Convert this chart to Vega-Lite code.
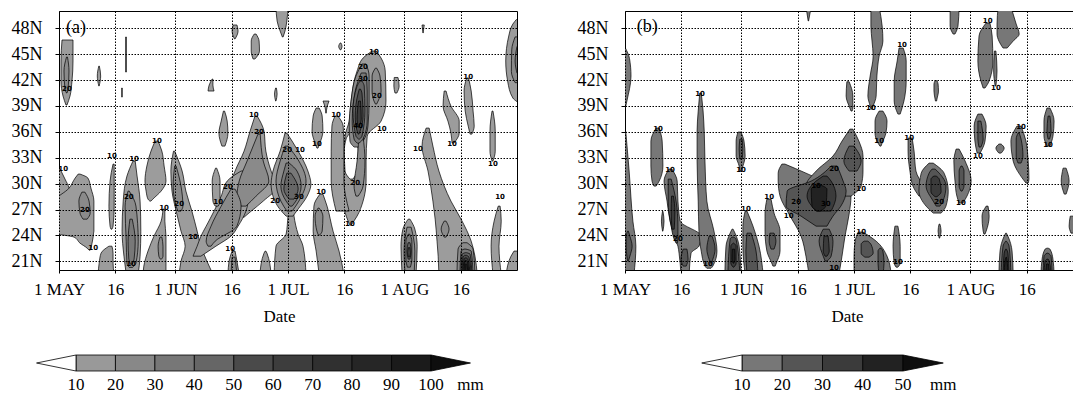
{
"$schema": "https://vega.github.io/schema/vega-lite/v6.json",
"background": "white",
"padding": {"left": 10, "top": 10, "right": 5, "bottom": 0},
"config": {"view": {"stroke": "black", "strokeWidth": 1}},
"datasets": {
"ca": [
{"g":"a01","lv":10,"lat":46.64,"d0":0.8,"d1":3.73},{"g":"a01","lv":10,"lat":44.21,"d0":0.53,"d1":3.73},{"g":"a01","lv":10,"lat":41.89,"d0":0.53,"d1":3.46},{"g":"a01","lv":10,"lat":40.15,"d0":1.07,"d1":2.93},{"g":"a01","lv":10,"lat":39.11,"d0":1.86,"d1":2.13},
{"g":"a01b","lv":20,"lat":44.67,"d0":2.0,"d1":2.26},{"g":"a01b","lv":20,"lat":43.05,"d0":1.33,"d1":2.66},{"g":"a01b","lv":20,"lat":40.96,"d0":1.6,"d1":2.4},{"g":"a01b","lv":20,"lat":40.5,"d0":2.0,"d1":2.13},
{"g":"a02","lv":10,"lat":43.62,"d0":10.6,"d1":10.75},{"g":"a02","lv":10,"lat":42.47,"d0":10.2,"d1":11.1},{"g":"a02","lv":10,"lat":41.31,"d0":10.6,"d1":10.7},
{"g":"a03","lv":10,"lat":46.99,"d0":17.75,"d1":17.95},{"g":"a03","lv":10,"lat":42.93,"d0":17.75,"d1":17.95},
{"g":"a04","lv":10,"lat":41.08,"d0":16.7,"d1":16.85},{"g":"a04","lv":10,"lat":40.03,"d0":16.7,"d1":16.85},
{"g":"a05","lv":10,"lat":42.12,"d0":40.8,"d1":41.0},{"g":"a05","lv":10,"lat":41.42,"d0":40.0,"d1":41.0},{"g":"a05","lv":10,"lat":40.73,"d0":39.7,"d1":41.3},
{"g":"a06","lv":10,"lat":48.38,"d0":46.4,"d1":47.4},{"g":"a06","lv":10,"lat":47.68,"d0":46.1,"d1":47.7},{"g":"a06","lv":10,"lat":46.76,"d0":46.75,"d1":46.9},
{"g":"a07","lv":10,"lat":47.33,"d0":52.0,"d1":52.5},{"g":"a07","lv":10,"lat":46.52,"d0":51.2,"d1":53.3},{"g":"a07","lv":10,"lat":45.36,"d0":51.2,"d1":53.4},{"g":"a07","lv":10,"lat":44.44,"d0":51.7,"d1":52.2},
{"g":"a08","lv":10,"lat":38.41,"d0":43.8,"d1":44.1},{"g":"a08","lv":10,"lat":37.25,"d0":43.2,"d1":44.8},{"g":"a08","lv":10,"lat":35.86,"d0":42.6,"d1":45.0},{"g":"a08","lv":10,"lat":34.35,"d0":43.4,"d1":44.2},
{"g":"a09","lv":10,"lat":50.5,"d0":57.8,"d1":61.0},{"g":"a09","lv":10,"lat":48.84,"d0":58.1,"d1":60.7},{"g":"a09","lv":10,"lat":47.68,"d0":58.9,"d1":60.2},{"g":"a09","lv":10,"lat":46.99,"d0":59.5,"d1":59.7},
{"g":"a10","lv":10,"lat":46.3,"d0":74.9,"d1":75.1},{"g":"a10","lv":10,"lat":45.9,"d0":74.5,"d1":75.4},{"g":"a10","lv":10,"lat":45.5,"d0":74.9,"d1":75.1},
{"g":"a11","lv":10,"lat":49.0,"d0":121.8,"d1":123},{"g":"a11","lv":10,"lat":48.49,"d0":120.9,"d1":123},{"g":"a11","lv":10,"lat":47.1,"d0":119.8,"d1":123},{"g":"a11","lv":10,"lat":44.21,"d0":119.0,"d1":123},{"g":"a11","lv":10,"lat":41.89,"d0":119.5,"d1":123},{"g":"a11","lv":10,"lat":39.92,"d0":120.9,"d1":123},{"g":"a11","lv":10,"lat":39.5,"d0":122.0,"d1":123},
{"g":"a11b","lv":20,"lat":47.0,"d0":121.5,"d1":123},{"g":"a11b","lv":20,"lat":45.5,"d0":120.6,"d1":123},{"g":"a11b","lv":20,"lat":43.0,"d0":120.5,"d1":123},{"g":"a11b","lv":20,"lat":41.7,"d0":121.5,"d1":123},
{"g":"a11c","lv":30,"lat":45.9,"d0":122.0,"d1":123},{"g":"a11c","lv":30,"lat":44.2,"d0":121.5,"d1":123},{"g":"a11c","lv":30,"lat":42.8,"d0":122.0,"d1":123},
{"g":"a12","lv":10,"lat":45.36,"d0":83.4,"d1":84.5},{"g":"a12","lv":10,"lat":44.55,"d0":81.0,"d1":85.8},{"g":"a12","lv":10,"lat":43.05,"d0":79.4,"d1":86.9},{"g":"a12","lv":10,"lat":39.57,"d0":77.8,"d1":87.1},{"g":"a12","lv":10,"lat":37.25,"d0":77.3,"d1":85.8},{"g":"a12","lv":10,"lat":35.51,"d0":76.2,"d1":82.1},{"g":"a12","lv":10,"lat":32.62,"d0":75.9,"d1":81.8},{"g":"a12","lv":10,"lat":30.3,"d0":75.4,"d1":81.8},{"g":"a12","lv":10,"lat":27.98,"d0":75.7,"d1":81.0},{"g":"a12","lv":10,"lat":26.24,"d0":76.5,"d1":79.4},{"g":"a12","lv":10,"lat":25.2,"d0":77.5,"d1":77.8},
{"g":"a13","lv":10,"lat":37.83,"d0":73.5,"d1":74.3},{"g":"a13","lv":10,"lat":36.67,"d0":72.7,"d1":75.7},{"g":"a13","lv":10,"lat":33.77,"d0":72.5,"d1":75.9},{"g":"a13","lv":10,"lat":30.3,"d0":72.5,"d1":75.9},{"g":"a13","lv":10,"lat":26.82,"d0":73.8,"d1":77.3},
{"g":"h1","lv":0,"lat":35.86,"d0":77.5,"d1":78.2},{"g":"h1","lv":0,"lat":35.2,"d0":76.5,"d1":78.9},{"g":"h1","lv":0,"lat":33.77,"d0":76.0,"d1":79.7},{"g":"h1","lv":0,"lat":31.46,"d0":76.2,"d1":79.4},{"g":"h1","lv":0,"lat":30.53,"d0":77.5,"d1":78.3},
{"g":"a12c","lv":20,"lat":43.86,"d0":80.7,"d1":81.8},{"g":"a12c","lv":20,"lat":42.47,"d0":79.1,"d1":82.6},{"g":"a12c","lv":20,"lat":39.57,"d0":77.8,"d1":82.6},{"g":"a12c","lv":20,"lat":36.67,"d0":77.3,"d1":82.3},{"g":"a12c","lv":20,"lat":34.93,"d0":77.5,"d1":81.0},{"g":"a12c","lv":20,"lat":34.24,"d0":78.6,"d1":79.7},
{"g":"a12d","lv":30,"lat":42.82,"d0":80.5,"d1":81.8},{"g":"a12d","lv":30,"lat":40.73,"d0":78.9,"d1":82.1},{"g":"a12d","lv":30,"lat":37.25,"d0":78.1,"d1":82.1},{"g":"a12d","lv":30,"lat":35.17,"d0":78.6,"d1":81.0},{"g":"a12d","lv":30,"lat":34.7,"d0":79.4,"d1":79.9},
{"g":"a12e","lv":40,"lat":41.89,"d0":80.2,"d1":80.7},{"g":"a12e","lv":40,"lat":41.31,"d0":79.4,"d1":81.3},{"g":"a12e","lv":40,"lat":38.41,"d0":78.3,"d1":81.5},{"g":"a12e","lv":40,"lat":35.51,"d0":79.1,"d1":80.7},{"g":"a12e","lv":40,"lat":35.17,"d0":79.8,"d1":80.1},
{"g":"a12f","lv":50,"lat":40.96,"d0":80.0,"d1":80.3},{"g":"a12f","lv":50,"lat":40.5,"d0":79.7,"d1":80.7},{"g":"a12f","lv":50,"lat":37.83,"d0":78.9,"d1":81.0},{"g":"a12f","lv":50,"lat":36.09,"d0":79.4,"d1":80.2},{"g":"a12f","lv":50,"lat":35.74,"d0":79.7,"d1":79.9},
{"g":"a12g","lv":60,"lat":39.57,"d0":79.8,"d1":80.3},{"g":"a12g","lv":60,"lat":37.48,"d0":79.4,"d1":80.5},{"g":"a12g","lv":60,"lat":36.55,"d0":79.7,"d1":79.9},
{"g":"a12h","lv":20,"lat":43.39,"d0":84.3,"d1":84.6},{"g":"a12h","lv":20,"lat":42.47,"d0":83.4,"d1":85.5},{"g":"a12h","lv":20,"lat":40.73,"d0":83.4,"d1":85.8},{"g":"a12h","lv":20,"lat":39.57,"d0":83.9,"d1":85.0},{"g":"a12h","lv":20,"lat":39.22,"d0":84.3,"d1":84.6},
{"g":"a12i","lv":20,"lat":35.51,"d0":79.9,"d1":81.0},{"g":"a12i","lv":20,"lat":32.62,"d0":79.4,"d1":81.5},{"g":"a12i","lv":20,"lat":29.72,"d0":78.6,"d1":81.0},{"g":"a12i","lv":20,"lat":28.56,"d0":79.1,"d1":79.7},
{"g":"a14","lv":10,"lat":28.79,"d0":69.5,"d1":70.3},{"g":"a14","lv":10,"lat":27.4,"d0":67.9,"d1":71.4},{"g":"a14","lv":10,"lat":24.5,"d0":67.7,"d1":73.0},{"g":"a14","lv":10,"lat":22.19,"d0":68.5,"d1":74.6},{"g":"a14","lv":10,"lat":19.5,"d0":69.3,"d1":75.9},
{"g":"a14b","lv":20,"lat":27.17,"d0":69.0,"d1":69.3},{"g":"a14b","lv":20,"lat":26.24,"d0":68.2,"d1":70.3},{"g":"a14b","lv":20,"lat":24.5,"d0":68.7,"d1":70.1},{"g":"a14b","lv":20,"lat":24.04,"d0":69.1,"d1":69.4},
{"g":"a15","lv":10,"lat":27.4,"d0":61.3,"d1":62.3},{"g":"a15","lv":10,"lat":26.24,"d0":61.0,"d1":62.6},{"g":"a15","lv":10,"lat":24.16,"d0":60.5,"d1":63.7},{"g":"a15","lv":10,"lat":22.76,"d0":57.8,"d1":65.0},{"g":"a15","lv":10,"lat":19.5,"d0":57.3,"d1":65.8},
{"g":"bl","lv":10,"lat":37.83,"d0":52.2,"d1":52.8},{"g":"bl","lv":10,"lat":36.09,"d0":50.9,"d1":54.6},{"g":"bl","lv":10,"lat":33.77,"d0":49.3,"d1":55.1},{"g":"bl","lv":10,"lat":31.46,"d0":46.9,"d1":56.5},{"g":"bl","lv":10,"lat":29.72,"d0":45.6,"d1":58.1},{"g":"bl","lv":10,"lat":27.98,"d0":45.8,"d1":54.4},{"g":"bl","lv":10,"lat":26.82,"d0":47.4,"d1":51.2},{"g":"bl","lv":10,"lat":26.12,"d0":49.0,"d1":49.3},
{"g":"bl2","lv":20,"lat":35.74,"d0":53.0,"d1":53.6},{"g":"bl2","lv":20,"lat":32.62,"d0":50.1,"d1":54.4},{"g":"bl2","lv":20,"lat":30.3,"d0":48.0,"d1":55.9},{"g":"bl2","lv":20,"lat":28.56,"d0":47.4,"d1":52.5},{"g":"bl2","lv":20,"lat":27.4,"d0":48.5,"d1":49.8},
{"g":"br","lv":10,"lat":35.86,"d0":60.2,"d1":60.7},{"g":"br","lv":10,"lat":33.77,"d0":58.9,"d1":63.7},{"g":"br","lv":10,"lat":31.46,"d0":57.0,"d1":66.3},{"g":"br","lv":10,"lat":29.95,"d0":56.5,"d1":67.1},{"g":"br","lv":10,"lat":28.56,"d0":57.0,"d1":66.1},{"g":"br","lv":10,"lat":27.17,"d0":58.6,"d1":63.9},{"g":"br","lv":10,"lat":26.24,"d0":60.5,"d1":62.3},
{"g":"br2","lv":20,"lat":34.35,"d0":60.2,"d1":61.0},{"g":"br2","lv":20,"lat":32.62,"d0":58.9,"d1":63.9},{"g":"br2","lv":20,"lat":30.3,"d0":57.8,"d1":65.8},{"g":"br2","lv":20,"lat":27.98,"d0":59.1,"d1":63.9},{"g":"br2","lv":20,"lat":26.82,"d0":60.7,"d1":62.1},
{"g":"br3","lv":30,"lat":32.39,"d0":60.5,"d1":61.3},{"g":"br3","lv":30,"lat":31.46,"d0":59.9,"d1":63.4},{"g":"br3","lv":30,"lat":29.72,"d0":59.1,"d1":64.5},{"g":"br3","lv":30,"lat":27.98,"d0":60.5,"d1":63.1},{"g":"br3","lv":30,"lat":27.4,"d0":61.5,"d1":62.1},
{"g":"br4","lv":40,"lat":31.22,"d0":60.7,"d1":61.8},{"g":"br4","lv":40,"lat":29.37,"d0":59.9,"d1":63.7},{"g":"br4","lv":40,"lat":28.21,"d0":61.3,"d1":62.6},
{"g":"ll","lv":10,"lat":33.77,"d0":30.5,"d1":30.8},{"g":"ll","lv":10,"lat":31.46,"d0":29.8,"d1":32.8},{"g":"ll","lv":10,"lat":29.14,"d0":30.1,"d1":33.8},{"g":"ll","lv":10,"lat":26.82,"d0":31.2,"d1":35.4},{"g":"ll","lv":10,"lat":24.5,"d0":32.5,"d1":36.8},{"g":"ll","lv":10,"lat":22.76,"d0":33.6,"d1":37.8},{"g":"ll","lv":10,"lat":21.03,"d0":32.5,"d1":39.4},{"g":"ll","lv":10,"lat":19.5,"d0":32.0,"d1":41.0},
{"g":"ll2","lv":20,"lat":32.04,"d0":30.8,"d1":31.2},{"g":"ll2","lv":20,"lat":29.72,"d0":30.4,"d1":32.5},{"g":"ll2","lv":20,"lat":27.4,"d0":31.2,"d1":33.0},{"g":"ll2","lv":20,"lat":26.82,"d0":31.7,"d1":32.5},
{"g":"ra","lv":10,"lat":31.46,"d0":48.5,"d1":49.6},{"g":"ra","lv":10,"lat":30.3,"d0":44.8,"d1":51.2},{"g":"ra","lv":10,"lat":28.56,"d0":43.2,"d1":50.6},{"g":"ra","lv":10,"lat":26.82,"d0":41.3,"d1":49.8},{"g":"ra","lv":10,"lat":25.08,"d0":39.2,"d1":47.7},{"g":"ra","lv":10,"lat":23.92,"d0":37.8,"d1":45.8},{"g":"ra","lv":10,"lat":22.76,"d0":36.8,"d1":41.8},{"g":"ra","lv":10,"lat":21.6,"d0":35.7,"d1":37.8},
{"g":"ra2","lv":20,"lat":29.37,"d0":45.8,"d1":46.9},{"g":"ra2","lv":20,"lat":27.4,"d0":43.2,"d1":48.5},{"g":"ra2","lv":20,"lat":25.08,"d0":40.5,"d1":47.4},{"g":"ra2","lv":20,"lat":23.34,"d0":39.2,"d1":41.6},{"g":"ra2","lv":20,"lat":22.76,"d0":39.7,"d1":40.5},
{"g":"fi","lv":10,"lat":31.8,"d0":41.7,"d1":42.0},{"g":"fi","lv":10,"lat":30.3,"d0":40.8,"d1":42.9},{"g":"fi","lv":10,"lat":27.98,"d0":41.0,"d1":42.9},{"g":"fi","lv":10,"lat":27.4,"d0":41.6,"d1":42.4},
{"g":"sb","lv":10,"lat":22.19,"d0":46.1,"d1":46.9},{"g":"sb","lv":10,"lat":21.03,"d0":45.3,"d1":47.4},{"g":"sb","lv":10,"lat":19.5,"d0":45.0,"d1":48.0},
{"g":"sb2","lv":20,"lat":21.49,"d0":46.1,"d1":46.9},{"g":"sb2","lv":20,"lat":19.5,"d0":45.8,"d1":47.4},
{"g":"a37","lv":10,"lat":22.19,"d0":54.9,"d1":55.1},{"g":"a37","lv":10,"lat":21.95,"d0":54.6,"d1":55.4},{"g":"a37","lv":10,"lat":19.5,"d0":53.5,"d1":56.5},
{"g":"A8a","lv":10,"lat":31.69,"d0":-1,"d1":0.3},{"g":"A8a","lv":10,"lat":30.53,"d0":-1,"d1":1.6},{"g":"A8a","lv":10,"lat":29.49,"d0":-1,"d1":2.7},{"g":"A8a","lv":10,"lat":28.5,"d0":-1,"d1":3.0},
{"g":"A8","lv":10,"lat":31.11,"d0":5.1,"d1":5.6},{"g":"A8","lv":10,"lat":30.65,"d0":4.3,"d1":7.7},{"g":"A8","lv":10,"lat":29.49,"d0":2.7,"d1":8.5},{"g":"A8","lv":10,"lat":27.98,"d0":-1,"d1":9.3},{"g":"A8","lv":10,"lat":24.5,"d0":-1,"d1":9.3},{"g":"A8","lv":10,"lat":24.27,"d0":-1,"d1":9.2},{"g":"A8","lv":10,"lat":23.81,"d0":4.0,"d1":9.1},{"g":"A8","lv":10,"lat":23.11,"d0":5.6,"d1":8.8},{"g":"A8","lv":10,"lat":22.53,"d0":7.5,"d1":8.5},{"g":"A8","lv":10,"lat":22.3,"d0":8.0,"d1":8.3},
{"g":"A8b","lv":20,"lat":29.02,"d0":6.1,"d1":6.9},{"g":"A8b","lv":20,"lat":27.98,"d0":5.3,"d1":8.0},{"g":"A8b","lv":20,"lat":26.59,"d0":5.6,"d1":8.3},{"g":"A8b","lv":20,"lat":25.89,"d0":6.4,"d1":7.5},
{"g":"A9","lv":10,"lat":32.27,"d0":14.4,"d1":14.7},{"g":"A9","lv":10,"lat":30.3,"d0":13.6,"d1":14.7},{"g":"A9","lv":10,"lat":27.4,"d0":13.3,"d1":14.7},{"g":"A9","lv":10,"lat":25.08,"d0":13.6,"d1":14.4},{"g":"A9","lv":10,"lat":24.73,"d0":13.85,"d1":14.1},
{"g":"A10","lv":10,"lat":22.76,"d0":13.3,"d1":14.1},{"g":"A10","lv":10,"lat":21.95,"d0":11.2,"d1":14.4},{"g":"A10","lv":10,"lat":20.79,"d0":10.7,"d1":14.4},{"g":"A10","lv":10,"lat":19.5,"d0":10.4,"d1":14.7},
{"g":"A11","lv":10,"lat":32.62,"d0":19.7,"d1":20.3},{"g":"A11","lv":10,"lat":30.88,"d0":18.1,"d1":20.8},{"g":"A11","lv":10,"lat":27.98,"d0":17.1,"d1":21.6},{"g":"A11","lv":10,"lat":24.5,"d0":16.8,"d1":21.8},{"g":"A11","lv":10,"lat":21.6,"d0":17.3,"d1":21.6},{"g":"A11","lv":10,"lat":19.5,"d0":17.9,"d1":21.1},
{"g":"A11b","lv":20,"lat":29.14,"d0":18.4,"d1":18.7},{"g":"A11b","lv":20,"lat":27.4,"d0":17.6,"d1":20.5},{"g":"A11b","lv":20,"lat":23.34,"d0":17.9,"d1":21.1},{"g":"A11b","lv":20,"lat":20.79,"d0":18.1,"d1":20.5},{"g":"A11b","lv":20,"lat":20.3,"d0":18.7,"d1":19.6},
{"g":"A11c","lv":30,"lat":25.89,"d0":18.9,"d1":19.5},{"g":"A11c","lv":30,"lat":23.34,"d0":18.4,"d1":20.3},{"g":"A11c","lv":30,"lat":21.26,"d0":18.6,"d1":20.0},{"g":"A11c","lv":30,"lat":20.68,"d0":19.0,"d1":19.5},
{"g":"A12","lv":10,"lat":34.93,"d0":25.6,"d1":26.4},{"g":"A12","lv":10,"lat":33.77,"d0":24.5,"d1":27.4},{"g":"A12","lv":10,"lat":32.04,"d0":23.4,"d1":28.0},{"g":"A12","lv":10,"lat":30.3,"d0":22.9,"d1":28.5},{"g":"A12","lv":10,"lat":29.14,"d0":23.2,"d1":27.2},{"g":"A12","lv":10,"lat":28.21,"d0":23.7,"d1":25.0},{"g":"A12","lv":10,"lat":27.98,"d0":24.2,"d1":24.5},
{"g":"A13","lv":10,"lat":27.05,"d0":27.7,"d1":28.2},{"g":"A13","lv":10,"lat":25.66,"d0":27.2,"d1":28.2},{"g":"A13","lv":10,"lat":23.92,"d0":25.3,"d1":28.5},{"g":"A13","lv":10,"lat":22.19,"d0":23.7,"d1":28.5},{"g":"A13","lv":10,"lat":20.45,"d0":22.6,"d1":28.5},{"g":"A13","lv":10,"lat":19.5,"d0":22.4,"d1":28.5},
{"g":"A13b","lv":20,"lat":23.81,"d0":26.9,"d1":27.4},{"g":"A13b","lv":20,"lat":22.76,"d0":26.4,"d1":27.7},{"g":"A13b","lv":20,"lat":21.6,"d0":26.6,"d1":27.7},{"g":"A13b","lv":20,"lat":21.26,"d0":27.0,"d1":27.3},
{"g":"a20","lv":10,"lat":42.3,"d0":89.3,"d1":90.3},{"g":"a20","lv":10,"lat":41.31,"d0":89.2,"d1":90.6},{"g":"a20","lv":10,"lat":40.5,"d0":89.5,"d1":90.0},
{"g":"a24","lv":10,"lat":38.41,"d0":115.35,"d1":115.6},{"g":"a24","lv":10,"lat":36.09,"d0":114.8,"d1":116.2},{"g":"a24","lv":10,"lat":33.77,"d0":114.8,"d1":116.2},{"g":"a24","lv":10,"lat":32.62,"d0":115.35,"d1":115.6},
{"g":"a25","lv":10,"lat":42.24,"d0":108.6,"d1":109.1},{"g":"a25","lv":10,"lat":40.73,"d0":107.9,"d1":109.8},{"g":"a25","lv":10,"lat":38.41,"d0":108.2,"d1":110.3},{"g":"a25","lv":10,"lat":36.67,"d0":109.0,"d1":110.6},{"g":"a25","lv":10,"lat":35.74,"d0":109.5,"d1":110.0},
{"g":"a26","lv":10,"lat":40.73,"d0":102.6,"d1":103.1},{"g":"a26","lv":10,"lat":38.99,"d0":102.3,"d1":104.4},{"g":"a26","lv":10,"lat":37.25,"d0":103.6,"d1":106.6},{"g":"a26","lv":10,"lat":35.86,"d0":104.4,"d1":106.6},{"g":"a26","lv":10,"lat":34.7,"d0":104.7,"d1":105.2},
{"g":"a21","lv":10,"lat":36.44,"d0":97.8,"d1":98.6},{"g":"a21","lv":10,"lat":34.35,"d0":96.7,"d1":99.6},{"g":"a21","lv":10,"lat":31.46,"d0":98.3,"d1":101.2},{"g":"a21","lv":10,"lat":27.98,"d0":99.6,"d1":104.4},{"g":"a21","lv":10,"lat":25.89,"d0":100.2,"d1":107.1},{"g":"a21","lv":10,"lat":23.34,"d0":100.7,"d1":109.8},{"g":"a21","lv":10,"lat":21.6,"d0":101.0,"d1":110.8},{"g":"a21","lv":10,"lat":19.5,"d0":101.2,"d1":111.4},
{"g":"a21b","lv":20,"lat":25.66,"d0":102.6,"d1":103.1},{"g":"a21b","lv":20,"lat":24.73,"d0":101.8,"d1":103.9},{"g":"a21b","lv":20,"lat":23.81,"d0":102.6,"d1":103.1},
{"g":"dc","lv":20,"lat":23.16,"d0":107.6,"d1":108.7},{"g":"dc","lv":20,"lat":22.42,"d0":106.3,"d1":110.3},{"g":"dc","lv":20,"lat":19.5,"d0":106.0,"d1":110.8},
{"g":"dc3","lv":30,"lat":22.42,"d0":107.9,"d1":108.4},{"g":"dc3","lv":30,"lat":22.19,"d0":107.1,"d1":109.8},{"g":"dc3","lv":30,"lat":19.5,"d0":106.8,"d1":110.3},
{"g":"dc4","lv":40,"lat":22.0,"d0":108.2,"d1":108.6},{"g":"dc4","lv":40,"lat":21.84,"d0":107.4,"d1":109.5},{"g":"dc4","lv":40,"lat":19.5,"d0":107.1,"d1":110.0},
{"g":"dc5","lv":50,"lat":21.7,"d0":108.0,"d1":108.6},{"g":"dc5","lv":50,"lat":21.49,"d0":107.6,"d1":109.2},{"g":"dc5","lv":50,"lat":19.5,"d0":107.4,"d1":109.8},
{"g":"dc6","lv":60,"lat":21.4,"d0":108.1,"d1":108.5},{"g":"dc6","lv":60,"lat":21.26,"d0":107.9,"d1":108.9},{"g":"dc6","lv":60,"lat":19.5,"d0":107.6,"d1":109.5},
{"g":"dc7","lv":70,"lat":21.1,"d0":108.2,"d1":108.5},{"g":"dc7","lv":70,"lat":20.91,"d0":108.0,"d1":108.8},{"g":"dc7","lv":70,"lat":19.5,"d0":107.9,"d1":109.2},
{"g":"dc8","lv":80,"lat":20.7,"d0":108.3,"d1":108.5},{"g":"dc8","lv":80,"lat":20.56,"d0":108.2,"d1":108.7},{"g":"dc8","lv":80,"lat":19.5,"d0":108.2,"d1":108.9},
{"g":"a22","lv":10,"lat":25.89,"d0":93.0,"d1":93.5},{"g":"a22","lv":10,"lat":24.73,"d0":91.6,"d1":94.8},{"g":"a22","lv":10,"lat":22.76,"d0":91.1,"d1":95.4},{"g":"a22","lv":10,"lat":19.5,"d0":91.4,"d1":95.1},
{"g":"a22b","lv":20,"lat":24.96,"d0":92.7,"d1":93.8},{"g":"a22b","lv":20,"lat":22.19,"d0":91.9,"d1":94.8},{"g":"a22b","lv":20,"lat":19.5,"d0":92.2,"d1":94.6},
{"g":"a22c","lv":30,"lat":24.16,"d0":93.1,"d1":93.4},{"g":"a22c","lv":30,"lat":23.34,"d0":92.4,"d1":94.0},{"g":"a22c","lv":30,"lat":21.26,"d0":92.4,"d1":94.0},{"g":"a22c","lv":30,"lat":20.33,"d0":92.8,"d1":93.6},
{"g":"a22d","lv":40,"lat":23.16,"d0":93.0,"d1":93.5},{"g":"a22d","lv":40,"lat":22.19,"d0":92.7,"d1":93.8},{"g":"a22d","lv":40,"lat":21.26,"d0":93.0,"d1":93.5},
{"g":"a22e","lv":50,"lat":22.6,"d0":93.1,"d1":93.4},{"g":"a22e","lv":50,"lat":22.0,"d0":92.9,"d1":93.6},{"g":"a22e","lv":50,"lat":21.5,"d0":93.1,"d1":93.4},
{"g":"a23","lv":10,"lat":27.4,"d0":117.0,"d1":117.5},{"g":"a23","lv":10,"lat":25.66,"d0":115.9,"d1":117.8},{"g":"a23","lv":10,"lat":22.76,"d0":115.1,"d1":117.2},{"g":"a23","lv":10,"lat":19.5,"d0":115.6,"d1":117.8},
{"g":"a23b","lv":10,"lat":22.19,"d0":121.2,"d1":123},{"g":"a23b","lv":10,"lat":21.6,"d0":120.4,"d1":123},{"g":"a23b","lv":10,"lat":19.5,"d0":119.1,"d1":123},
{"g":"a28","lv":10,"lat":38.76,"d0":68.5,"d1":69.3},{"g":"a28","lv":10,"lat":37.83,"d0":67.7,"d1":70.1},{"g":"a28","lv":10,"lat":36.09,"d0":67.4,"d1":70.3},{"g":"a28","lv":10,"lat":34.7,"d0":68.2,"d1":69.5},{"g":"a28","lv":10,"lat":34.12,"d0":68.7,"d1":69.0},
{"g":"a31","lv":10,"lat":41.08,"d0":57.7,"d1":57.9},{"g":"a31","lv":10,"lat":40.38,"d0":57.4,"d1":58.1},{"g":"a31","lv":10,"lat":39.57,"d0":57.7,"d1":57.8},
{"g":"a32","lv":10,"lat":38.17,"d0":71.07,"d1":71.18},{"g":"a32","lv":10,"lat":38.87,"d0":70.86,"d1":71.4},{"g":"a32","lv":10,"lat":39.57,"d0":70.33,"d1":71.93},
{"g":"a33","lv":10,"lat":48.38,"d0":96.7,"d1":97.3},{"g":"a33","lv":10,"lat":47.8,"d0":96.85,"d1":97.1},{"g":"a33","lv":10,"lat":47.45,"d0":96.95,"d1":97.0}
],
"cb": [
{"g":"b01a","lv":10,"lat":45.71,"d0":-1,"d1":0.1},{"g":"b01a","lv":10,"lat":44.5,"d0":-1,"d1":1.2},{"g":"b01a","lv":10,"lat":42.47,"d0":-1,"d1":1.6},{"g":"b01a","lv":10,"lat":39.57,"d0":-1,"d1":0.5},{"g":"b01a","lv":10,"lat":38.76,"d0":-1,"d1":0.1},
{"g":"b01b","lv":10,"lat":36.09,"d0":-1,"d1":0.2},{"g":"b01b","lv":10,"lat":31.46,"d0":-1,"d1":1.1},{"g":"b01b","lv":10,"lat":25.66,"d0":-1,"d1":2.1},{"g":"b01b","lv":10,"lat":22.76,"d0":-1,"d1":2.9},{"g":"b01b","lv":10,"lat":19.5,"d0":-1,"d1":2.4},
{"g":"b01c","lv":20,"lat":24.5,"d0":0.7,"d1":0.9},{"g":"b01c","lv":20,"lat":23.92,"d0":0.3,"d1":1.3},{"g":"b01c","lv":20,"lat":22.76,"d0":0.3,"d1":1.9},{"g":"b01c","lv":20,"lat":21.6,"d0":0.5,"d1":1.3},{"g":"b01c","lv":20,"lat":21.03,"d0":0.7,"d1":0.9},
{"g":"b02","lv":10,"lat":36.44,"d0":8.3,"d1":9.1},{"g":"b02","lv":10,"lat":34.93,"d0":6.9,"d1":9.9},{"g":"b02","lv":10,"lat":32.04,"d0":6.9,"d1":10.1},{"g":"b02","lv":10,"lat":30.3,"d0":7.2,"d1":9.1},{"g":"b02","lv":10,"lat":29.72,"d0":7.7,"d1":8.3},
{"g":"b03","lv":10,"lat":31.69,"d0":11.7,"d1":12.5},{"g":"b03","lv":10,"lat":30.3,"d0":10.4,"d1":13.9},{"g":"b03","lv":10,"lat":27.98,"d0":11.2,"d1":14.1},{"g":"b03","lv":10,"lat":25.66,"d0":12.0,"d1":14.7},{"g":"b03","lv":10,"lat":23.92,"d0":13.1,"d1":20.3},{"g":"b03","lv":10,"lat":22.76,"d0":14.1,"d1":19.7},{"g":"b03","lv":10,"lat":21.95,"d0":14.4,"d1":17.6},{"g":"b03","lv":10,"lat":19.5,"d0":14.9,"d1":17.1},
{"g":"b03b","lv":20,"lat":30.53,"d0":11.5,"d1":12.3},{"g":"b03b","lv":20,"lat":27.98,"d0":11.5,"d1":13.6},{"g":"b03b","lv":20,"lat":25.08,"d0":12.3,"d1":14.1},{"g":"b03b","lv":20,"lat":23.57,"d0":13.1,"d1":14.1},{"g":"b03b","lv":20,"lat":23.11,"d0":13.6,"d1":13.9},
{"g":"b03c","lv":30,"lat":28.56,"d0":12.4,"d1":12.9},{"g":"b03c","lv":30,"lat":26.82,"d0":12.3,"d1":13.3},{"g":"b03c","lv":30,"lat":24.73,"d0":12.5,"d1":13.1},
{"g":"b03d","lv":20,"lat":22.42,"d0":15.5,"d1":16.5},{"g":"b03d","lv":20,"lat":21.26,"d0":14.9,"d1":16.8},{"g":"b03d","lv":20,"lat":20.45,"d0":15.5,"d1":16.3},
{"g":"b04","lv":10,"lat":26.82,"d0":10.0,"d1":10.1},{"g":"b04","lv":10,"lat":25.66,"d0":9.7,"d1":10.4},{"g":"b04","lv":10,"lat":24.5,"d0":10.0,"d1":10.1},
{"g":"b05","lv":10,"lat":40.5,"d0":19.9,"d1":20.3},{"g":"b05","lv":10,"lat":38.41,"d0":19.5,"d1":20.8},{"g":"b05","lv":10,"lat":36.09,"d0":19.2,"d1":21.1},{"g":"b05","lv":10,"lat":32.62,"d0":19.2,"d1":21.3},{"g":"b05","lv":10,"lat":27.98,"d0":19.5,"d1":21.8},{"g":"b05","lv":10,"lat":24.5,"d0":19.7,"d1":23.7},{"g":"b05","lv":10,"lat":22.19,"d0":20.3,"d1":24.5},{"g":"b05","lv":10,"lat":20.45,"d0":21.3,"d1":23.4},{"g":"b05","lv":10,"lat":20.2,"d0":21.8,"d1":22.9},
{"g":"b05b","lv":20,"lat":23.92,"d0":22.4,"d1":23.2},{"g":"b05b","lv":20,"lat":22.42,"d0":21.8,"d1":24.0},{"g":"b05b","lv":20,"lat":21.26,"d0":22.4,"d1":23.4},{"g":"b05b","lv":20,"lat":20.79,"d0":22.8,"d1":23.0},
{"g":"b06","lv":10,"lat":35.98,"d0":30.1,"d1":30.9},{"g":"b06","lv":10,"lat":34.93,"d0":29.6,"d1":31.7},{"g":"b06","lv":10,"lat":33.2,"d0":29.6,"d1":32.0},{"g":"b06","lv":10,"lat":32.04,"d0":30.4,"d1":31.4},{"g":"b06","lv":10,"lat":31.46,"d0":30.6,"d1":30.9},
{"g":"b06b","lv":20,"lat":35.17,"d0":30.6,"d1":31.2},{"g":"b06b","lv":20,"lat":34.01,"d0":30.4,"d1":31.4},{"g":"b06b","lv":20,"lat":32.85,"d0":30.6,"d1":31.2},
{"g":"b07a","lv":10,"lat":24.73,"d0":28.5,"d1":28.8},{"g":"b07a","lv":10,"lat":24.27,"d0":28.0,"d1":29.3},{"g":"b07a","lv":10,"lat":22.76,"d0":26.9,"d1":30.4},{"g":"b07a","lv":10,"lat":19.5,"d0":26.6,"d1":30.9},
{"g":"b07a2","lv":20,"lat":23.81,"d0":28.5,"d1":29.0},{"g":"b07a2","lv":20,"lat":23.57,"d0":28.0,"d1":29.6},{"g":"b07a2","lv":20,"lat":19.5,"d0":27.4,"d1":30.6},
{"g":"b07a3","lv":30,"lat":23.11,"d0":28.8,"d1":29.0},{"g":"b07a3","lv":30,"lat":22.76,"d0":28.2,"d1":29.6},{"g":"b07a3","lv":30,"lat":20.79,"d0":28.2,"d1":29.6},{"g":"b07a3","lv":30,"lat":20.33,"d0":28.8,"d1":29.0},
{"g":"b07a4","lv":40,"lat":22.42,"d0":28.6,"d1":29.2},{"g":"b07a4","lv":40,"lat":21.26,"d0":28.5,"d1":29.3},{"g":"b07a4","lv":40,"lat":20.79,"d0":28.8,"d1":29.0},
{"g":"b07b","lv":10,"lat":26.82,"d0":32.0,"d1":32.5},{"g":"b07b","lv":10,"lat":25.08,"d0":31.4,"d1":34.1},{"g":"b07b","lv":10,"lat":22.76,"d0":31.4,"d1":35.7},{"g":"b07b","lv":10,"lat":19.5,"d0":32.0,"d1":36.8},
{"g":"b07b2","lv":20,"lat":24.27,"d0":32.5,"d1":33.6},{"g":"b07b2","lv":20,"lat":22.19,"d0":32.2,"d1":34.9},{"g":"b07b2","lv":20,"lat":19.5,"d0":32.5,"d1":35.4},
{"g":"b08","lv":10,"lat":28.21,"d0":37.8,"d1":38.9},{"g":"b08","lv":10,"lat":26.59,"d0":37.3,"d1":39.7},{"g":"b08","lv":10,"lat":24.5,"d0":37.3,"d1":41.3},{"g":"b08","lv":10,"lat":22.19,"d0":37.8,"d1":41.3},{"g":"b08","lv":10,"lat":20.68,"d0":39.2,"d1":40.2},{"g":"b08","lv":10,"lat":20.45,"d0":39.4,"d1":40.0},
{"g":"b08b","lv":20,"lat":24.27,"d0":38.6,"d1":39.7},{"g":"b08b","lv":20,"lat":23.34,"d0":38.4,"d1":40.2},{"g":"b08b","lv":20,"lat":22.42,"d0":38.9,"d1":39.7},
{"g":"b09","lv":10,"lat":32.27,"d0":41.8,"d1":42.6},{"g":"b09","lv":10,"lat":31.22,"d0":40.8,"d1":48.2},{"g":"b09","lv":10,"lat":30.3,"d0":40.8,"d1":52.8},{"g":"b09","lv":10,"lat":28.56,"d0":41.3,"d1":60.2},{"g":"b09","lv":10,"lat":26.47,"d0":43.7,"d1":59.7},{"g":"b09","lv":10,"lat":23.92,"d0":46.9,"d1":58.6},{"g":"b09","lv":10,"lat":21.6,"d0":48.2,"d1":57.8},{"g":"b09","lv":10,"lat":19.5,"d0":49.0,"d1":57.0},
{"g":"b09p","lv":10,"lat":36.32,"d0":59.9,"d1":60.7},{"g":"b09p","lv":10,"lat":34.93,"d0":57.8,"d1":62.3},{"g":"b09p","lv":10,"lat":33.2,"d0":55.4,"d1":63.4},{"g":"b09p","lv":10,"lat":31.46,"d0":50.9,"d1":63.4},{"g":"b09p","lv":10,"lat":29.72,"d0":48.2,"d1":62.9},{"g":"b09p","lv":10,"lat":28.56,"d0":52.2,"d1":60.2},
{"g":"b09b","lv":20,"lat":32.04,"d0":54.9,"d1":56.5},{"g":"b09b","lv":20,"lat":30.3,"d0":49.6,"d1":58.1},{"g":"b09b","lv":20,"lat":29.14,"d0":43.2,"d1":58.9},{"g":"b09b","lv":20,"lat":27.4,"d0":42.9,"d1":57.5},{"g":"b09b","lv":20,"lat":26.24,"d0":46.9,"d1":55.4},{"g":"b09b","lv":20,"lat":25.08,"d0":50.9,"d1":53.8},
{"g":"b09c","lv":30,"lat":30.88,"d0":52.8,"d1":53.8},{"g":"b09c","lv":30,"lat":30.3,"d0":50.9,"d1":54.9},{"g":"b09c","lv":30,"lat":28.56,"d0":48.5,"d1":56.2},{"g":"b09c","lv":30,"lat":26.82,"d0":50.9,"d1":54.9},
{"g":"b09d","lv":40,"lat":29.83,"d0":51.2,"d1":52.2},{"g":"b09d","lv":40,"lat":29.37,"d0":49.6,"d1":53.8},{"g":"b09d","lv":40,"lat":27.4,"d0":49.8,"d1":53.5},{"g":"b09d","lv":40,"lat":26.82,"d0":51.2,"d1":52.0},
{"g":"b09e","lv":20,"lat":34.35,"d0":59.7,"d1":61.0},{"g":"b09e","lv":20,"lat":32.62,"d0":58.3,"d1":62.9},{"g":"b09e","lv":20,"lat":31.46,"d0":59.7,"d1":61.8},
{"g":"b09f","lv":20,"lat":24.73,"d0":52.8,"d1":54.4},{"g":"b09f","lv":20,"lat":23.34,"d0":51.7,"d1":55.4},{"g":"b09f","lv":20,"lat":21.6,"d0":52.8,"d1":54.9},{"g":"b09f","lv":20,"lat":21.03,"d0":53.3,"d1":53.8},
{"g":"b09g","lv":30,"lat":23.92,"d0":53.0,"d1":54.1},{"g":"b09g","lv":30,"lat":22.19,"d0":52.8,"d1":54.4},{"g":"b09g","lv":30,"lat":21.6,"d0":53.3,"d1":53.8},
{"g":"b10","lv":10,"lat":24.39,"d0":62.1,"d1":63.4},{"g":"b10","lv":10,"lat":23.34,"d0":61.3,"d1":66.9},{"g":"b10","lv":10,"lat":21.6,"d0":61.0,"d1":69.8},{"g":"b10","lv":10,"lat":19.5,"d0":61.0,"d1":70.9},
{"g":"b10b","lv":20,"lat":23.34,"d0":63.7,"d1":64.7},{"g":"b10b","lv":20,"lat":22.99,"d0":62.9,"d1":65.5},{"g":"b10b","lv":20,"lat":21.95,"d0":62.9,"d1":66.1},{"g":"b10b","lv":20,"lat":21.49,"d0":63.9,"d1":65.0},
{"g":"b10c","lv":20,"lat":22.53,"d0":67.9,"d1":68.2},{"g":"b10c","lv":20,"lat":22.19,"d0":67.4,"d1":68.7},{"g":"b10c","lv":20,"lat":20.79,"d0":67.4,"d1":69.0},{"g":"b10c","lv":20,"lat":19.5,"d0":67.7,"d1":68.7},
{"g":"b11","lv":10,"lat":25.08,"d0":71.9,"d1":72.7},{"g":"b11","lv":10,"lat":22.76,"d0":71.4,"d1":73.3},{"g":"b11","lv":10,"lat":20.79,"d0":71.7,"d1":73.3},{"g":"b11","lv":10,"lat":20.33,"d0":72.2,"d1":72.7},
{"g":"b12","lv":10,"lat":50.5,"d0":65.5,"d1":67.7},{"g":"b12","lv":10,"lat":48.26,"d0":65.5,"d1":68.5},{"g":"b12","lv":10,"lat":46.52,"d0":65.8,"d1":68.7},{"g":"b12","lv":10,"lat":44.78,"d0":66.1,"d1":67.7},{"g":"b12","lv":10,"lat":42.47,"d0":65.3,"d1":67.1},{"g":"b12","lv":10,"lat":40.15,"d0":64.7,"d1":66.9},{"g":"b12","lv":10,"lat":38.99,"d0":65.3,"d1":66.1},{"g":"b12","lv":10,"lat":38.64,"d0":65.5,"d1":65.8},
{"g":"b13","lv":10,"lat":41.81,"d0":59.1,"d1":59.7},{"g":"b13","lv":10,"lat":40.15,"d0":58.9,"d1":60.7},{"g":"b13","lv":10,"lat":38.76,"d0":59.9,"d1":60.7},{"g":"b13","lv":10,"lat":38.41,"d0":60.2,"d1":60.5},
{"g":"b14","lv":10,"lat":45.71,"d0":73.0,"d1":74.1},{"g":"b14","lv":10,"lat":44.21,"d0":72.5,"d1":74.9},{"g":"b14","lv":10,"lat":41.89,"d0":71.7,"d1":74.9},{"g":"b14","lv":10,"lat":39.57,"d0":71.7,"d1":74.3},{"g":"b14","lv":10,"lat":38.06,"d0":72.7,"d1":73.3},
{"g":"b15","lv":10,"lat":50.5,"d0":86.6,"d1":89.0},{"g":"b15","lv":10,"lat":48.26,"d0":86.6,"d1":88.7},{"g":"b15","lv":10,"lat":47.33,"d0":87.4,"d1":87.9},
{"g":"b16","lv":10,"lat":41.93,"d0":82.6,"d1":83.1},{"g":"b16","lv":10,"lat":41.54,"d0":82.3,"d1":83.4},{"g":"b16","lv":10,"lat":40.73,"d0":82.3,"d1":83.5},{"g":"b16","lv":10,"lat":39.8,"d0":82.6,"d1":83.1},{"g":"b16","lv":10,"lat":39.57,"d0":82.7,"d1":83.0},
{"g":"b17","lv":10,"lat":48.61,"d0":96.2,"d1":97.2},{"g":"b17","lv":10,"lat":47.1,"d0":94.3,"d1":97.8},{"g":"b17","lv":10,"lat":44.21,"d0":94.0,"d1":98.0},{"g":"b17","lv":10,"lat":41.89,"d0":94.8,"d1":97.0},{"g":"b17","lv":10,"lat":41.08,"d0":95.4,"d1":95.9},
{"g":"b18","lv":10,"lat":45.36,"d0":98.4,"d1":98.8},{"g":"b18","lv":10,"lat":43.05,"d0":98.2,"d1":99.1},{"g":"b18","lv":10,"lat":41.31,"d0":98.6,"d1":98.8},
{"g":"b19","lv":10,"lat":50.5,"d0":99.4,"d1":102.8},{"g":"b19","lv":10,"lat":48.49,"d0":99.1,"d1":104.2},{"g":"b19","lv":10,"lat":47.33,"d0":99.1,"d1":105.0},{"g":"b19","lv":10,"lat":46.52,"d0":99.6,"d1":103.4},{"g":"b19","lv":10,"lat":45.71,"d0":100.7,"d1":101.8},
{"g":"b20","lv":10,"lat":38.76,"d0":112.4,"d1":113.2},{"g":"b20","lv":10,"lat":37.25,"d0":111.6,"d1":114.3},{"g":"b20","lv":10,"lat":35.51,"d0":111.6,"d1":114.0},{"g":"b20","lv":10,"lat":34.35,"d0":112.4,"d1":113.2},
{"g":"b20b","lv":20,"lat":37.83,"d0":112.7,"d1":113.2},{"g":"b20b","lv":20,"lat":36.09,"d0":112.4,"d1":113.5},{"g":"b20b","lv":20,"lat":35.17,"d0":112.7,"d1":113.1},
{"g":"b21","lv":10,"lat":38.06,"d0":94.0,"d1":95.1},{"g":"b21","lv":10,"lat":36.67,"d0":93.0,"d1":96.2},{"g":"b21","lv":10,"lat":34.93,"d0":93.2,"d1":95.9},{"g":"b21","lv":10,"lat":33.54,"d0":93.8,"d1":94.6},
{"g":"b21b","lv":20,"lat":37.25,"d0":94.0,"d1":94.8},{"g":"b21b","lv":20,"lat":35.17,"d0":94.0,"d1":95.4},{"g":"b21b","lv":20,"lat":34.24,"d0":94.3,"d1":94.8},
{"g":"b22","lv":10,"lat":36.67,"d0":104.4,"d1":105.5},{"g":"b22","lv":10,"lat":34.93,"d0":102.8,"d1":106.8},{"g":"b22","lv":10,"lat":32.62,"d0":103.4,"d1":107.4},{"g":"b22","lv":10,"lat":30.53,"d0":106.0,"d1":107.6},{"g":"b22","lv":10,"lat":30.07,"d0":106.8,"d1":107.4},
{"g":"b22b","lv":20,"lat":35.86,"d0":104.7,"d1":105.0},{"g":"b22b","lv":20,"lat":35.17,"d0":104.2,"d1":105.5},{"g":"b22b","lv":20,"lat":33.2,"d0":104.2,"d1":106.0},{"g":"b22b","lv":20,"lat":32.39,"d0":104.7,"d1":105.5},
{"g":"b23","lv":10,"lat":34.59,"d0":99.6,"d1":100.2},{"g":"b23","lv":10,"lat":34.12,"d0":98.8,"d1":101.0},{"g":"b23","lv":10,"lat":33.54,"d0":99.6,"d1":100.2},
{"g":"b24","lv":10,"lat":34.01,"d0":88.2,"d1":89.0},{"g":"b24","lv":10,"lat":32.62,"d0":87.6,"d1":90.6},{"g":"b24","lv":10,"lat":30.3,"d0":87.9,"d1":92.2},{"g":"b24","lv":10,"lat":28.56,"d0":88.4,"d1":91.1},{"g":"b24","lv":10,"lat":27.75,"d0":89.0,"d1":90.0},
{"g":"b24b","lv":20,"lat":32.04,"d0":89.5,"d1":89.8},{"g":"b24b","lv":20,"lat":31.46,"d0":89.0,"d1":90.3},{"g":"b24b","lv":20,"lat":29.72,"d0":89.0,"d1":90.3},{"g":"b24b","lv":20,"lat":29.14,"d0":89.5,"d1":89.8},
{"g":"b25t","lv":10,"lat":35.28,"d0":75.4,"d1":76.5},{"g":"b25t","lv":10,"lat":33.77,"d0":75.4,"d1":77.0},{"g":"b25t","lv":10,"lat":31.46,"d0":75.9,"d1":77.5},{"g":"b25t","lv":10,"lat":29.72,"d0":76.7,"d1":79.4},{"g":"b25t","lv":10,"lat":28.56,"d0":78.3,"d1":80.2},
{"g":"b25e","lv":10,"lat":32.38,"d0":81.0,"d1":82.1},{"g":"b25e","lv":10,"lat":31.22,"d0":78.9,"d1":85.0},{"g":"b25e","lv":10,"lat":29.14,"d0":78.3,"d1":86.1},{"g":"b25e","lv":10,"lat":27.4,"d0":80.2,"d1":85.5},{"g":"b25e","lv":10,"lat":26.59,"d0":82.1,"d1":84.2},
{"g":"b25b","lv":20,"lat":31.69,"d0":81.8,"d1":82.6},{"g":"b25b","lv":20,"lat":31.22,"d0":81.0,"d1":83.7},{"g":"b25b","lv":20,"lat":29.72,"d0":80.2,"d1":85.5},{"g":"b25b","lv":20,"lat":27.98,"d0":82.1,"d1":84.7},{"g":"b25b","lv":20,"lat":27.4,"d0":82.9,"d1":83.9},
{"g":"b25c","lv":30,"lat":30.88,"d0":82.3,"d1":82.9},{"g":"b25c","lv":30,"lat":30.53,"d0":81.5,"d1":83.7},{"g":"b25c","lv":30,"lat":29.06,"d0":81.5,"d1":84.2},{"g":"b25c","lv":30,"lat":28.49,"d0":82.6,"d1":83.1},
{"g":"b26","lv":10,"lat":27.4,"d0":96.2,"d1":96.7},{"g":"b26","lv":10,"lat":26.24,"d0":95.1,"d1":97.0},{"g":"b26","lv":10,"lat":24.5,"d0":95.4,"d1":96.2},{"g":"b26","lv":10,"lat":24.16,"d0":95.6,"d1":95.9},
{"g":"b27","lv":10,"lat":25.31,"d0":83.65,"d1":83.9},{"g":"b27","lv":10,"lat":24.5,"d0":83.4,"d1":84.2},{"g":"b27","lv":10,"lat":23.69,"d0":83.7,"d1":83.8},
{"g":"b28","lv":10,"lat":24.27,"d0":101.4,"d1":101.6},{"g":"b28","lv":10,"lat":23.92,"d0":101.0,"d1":102.0},{"g":"b28","lv":10,"lat":22.19,"d0":99.9,"d1":103.1},{"g":"b28","lv":10,"lat":19.5,"d0":99.6,"d1":103.4},
{"g":"b28b","lv":20,"lat":23.34,"d0":101.4,"d1":101.6},{"g":"b28b","lv":20,"lat":22.76,"d0":100.7,"d1":102.3},{"g":"b28b","lv":20,"lat":19.5,"d0":100.2,"d1":102.8},
{"g":"b28c","lv":30,"lat":22.42,"d0":101.4,"d1":101.6},{"g":"b28c","lv":30,"lat":21.95,"d0":101.0,"d1":102.0},{"g":"b28c","lv":30,"lat":19.5,"d0":100.7,"d1":102.3},
{"g":"b28d","lv":40,"lat":21.49,"d0":101.5,"d1":101.6},{"g":"b28d","lv":40,"lat":21.03,"d0":101.2,"d1":101.8},{"g":"b28d","lv":40,"lat":19.5,"d0":101.0,"d1":102.0},
{"g":"b29","lv":10,"lat":22.53,"d0":112.4,"d1":112.7},{"g":"b29","lv":10,"lat":22.42,"d0":111.9,"d1":113.2},{"g":"b29","lv":10,"lat":21.26,"d0":111.1,"d1":114.0},{"g":"b29","lv":10,"lat":19.5,"d0":110.8,"d1":114.3},
{"g":"b29b","lv":20,"lat":21.95,"d0":112.4,"d1":112.7},{"g":"b29b","lv":20,"lat":21.6,"d0":111.6,"d1":113.5},{"g":"b29b","lv":20,"lat":19.5,"d0":111.4,"d1":113.8},
{"g":"b29c","lv":30,"lat":21.26,"d0":112.4,"d1":112.7},{"g":"b29c","lv":30,"lat":21.03,"d0":111.9,"d1":113.0},{"g":"b29c","lv":30,"lat":19.5,"d0":111.6,"d1":113.5},
{"g":"b29d","lv":40,"lat":20.7,"d0":112.3,"d1":112.8},{"g":"b29d","lv":40,"lat":19.5,"d0":112.0,"d1":113.1},
{"g":"b30","lv":10,"lat":31.8,"d0":116.7,"d1":117.5},{"g":"b30","lv":10,"lat":30.3,"d0":116.2,"d1":118.3},{"g":"b30","lv":10,"lat":28.79,"d0":117.0,"d1":117.5},
{"g":"b31","lv":10,"lat":26.24,"d0":118.6,"d1":119.4},{"g":"b31","lv":10,"lat":25.08,"d0":118.3,"d1":119.9},{"g":"b31","lv":10,"lat":24.27,"d0":118.8,"d1":119.6},
{"g":"b35","lv":10,"lat":38.41,"d0":67.7,"d1":68.7},{"g":"b35","lv":10,"lat":37.25,"d0":66.6,"d1":69.8},{"g":"b35","lv":10,"lat":35.86,"d0":66.6,"d1":69.5},{"g":"b35","lv":10,"lat":34.7,"d0":67.4,"d1":68.5},{"g":"b35","lv":10,"lat":34.35,"d0":67.9,"d1":68.2},
{"g":"b36","lv":10,"lat":50.5,"d0":48.2,"d1":49.6},{"g":"b36","lv":10,"lat":48.84,"d0":48.8,"d1":48.9}
],
"la": [
{"t":"20","d":2.1,"lat":40.96},{"t":"10","d":1.1,"lat":31.7},{"t":"20","d":6.9,"lat":26.9},{"t":"10","d":9.1,"lat":22.5},{"t":"10","d":14.1,"lat":33.2},{"t":"10","d":20.0,"lat":32.9},{"t":"20","d":18.6,"lat":28.4},{"t":"10","d":19.2,"lat":20.7},{"t":"10","d":26.1,"lat":35.0},{"t":"10","d":28.0,"lat":27.2},{"t":"20","d":32.0,"lat":27.6},{"t":"10","d":35.7,"lat":23.8},{"t":"10","d":42.4,"lat":27.9},{"t":"20","d":45.0,"lat":29.6},{"t":"10","d":45.6,"lat":22.4},{"t":"10","d":51.9,"lat":38.0},{"t":"20","d":53.3,"lat":36.0},{"t":"20","d":60.8,"lat":33.9},{"t":"10","d":64.2,"lat":33.9},{"t":"20","d":57.6,"lat":28.0},{"t":"30","d":63.9,"lat":28.4},{"t":"10","d":69.8,"lat":29.0},{"t":"10","d":68.7,"lat":34.6},{"t":"10","d":73.8,"lat":38.0},{"t":"10","d":83.9,"lat":45.2},{"t":"20","d":81.0,"lat":43.5},{"t":"30","d":81.0,"lat":42.1},{"t":"20","d":84.7,"lat":40.1},{"t":"40","d":79.7,"lat":36.7},{"t":"10","d":86.0,"lat":36.3},{"t":"20","d":78.9,"lat":30.1},{"t":"10","d":77.5,"lat":25.3},{"t":"10","d":95.6,"lat":34.0},{"t":"10","d":109.0,"lat":42.4},{"t":"10","d":104.7,"lat":34.6},{"t":"10","d":115.6,"lat":32.3},{"t":"10","d":117.5,"lat":28.4}
],
"lb": [
{"t":"10","d":8.8,"lat":36.3},{"t":"10","d":12.0,"lat":31.6},{"t":"20","d":14.1,"lat":23.6},{"t":"10","d":20.0,"lat":40.4},{"t":"10","d":22.1,"lat":20.7},{"t":"10","d":30.9,"lat":31.6},{"t":"10","d":32.2,"lat":27.1},{"t":"10","d":38.4,"lat":28.4},{"t":"10","d":50.9,"lat":29.7},{"t":"20","d":55.7,"lat":31.7},{"t":"30","d":53.5,"lat":27.6},{"t":"20","d":45.6,"lat":27.9},{"t":"10","d":43.6,"lat":26.3},{"t":"10","d":62.9,"lat":29.4},{"t":"10","d":55.7,"lat":20.2},{"t":"10","d":62.9,"lat":24.4},{"t":"10","d":72.7,"lat":20.9},{"t":"10","d":65.5,"lat":38.8},{"t":"10","d":73.8,"lat":46.1},{"t":"10","d":75.7,"lat":35.3},{"t":"20","d":83.7,"lat":27.9},{"t":"10","d":89.5,"lat":27.8},{"t":"10","d":96.6,"lat":48.8},{"t":"10","d":98.8,"lat":41.1},{"t":"10","d":94.0,"lat":33.2},{"t":"10","d":112.7,"lat":34.5},{"t":"10","d":67.7,"lat":34.9},{"t":"10","d":105.5,"lat":36.6}
],
"bara": [
{"lv":10,"u0":0,"u1":1},{"lv":20,"u0":1,"u1":2},{"lv":30,"u0":2,"u1":3},{"lv":40,"u0":3,"u1":4},{"lv":50,"u0":4,"u1":5},{"lv":60,"u0":5,"u1":6},{"lv":70,"u0":6,"u1":7},{"lv":80,"u0":7,"u1":8},{"lv":90,"u0":8,"u1":9}
],
"barb": [
{"lvb":10,"u0":0,"u1":1},{"lvb":20,"u0":1,"u1":2},{"lvb":30,"u0":2,"u1":3},{"lvb":40,"u0":3,"u1":4}
],
"tria": [
{"s":"L","u":-1,"lo":0.5,"hi":0.5},{"s":"L","u":0,"lo":0,"hi":1},{"s":"R","u":9,"lo":0,"hi":1},{"s":"R","u":10,"lo":0.5,"hi":0.5}
],
"trib": [
{"s":"L","u":-1,"lo":0.5,"hi":0.5},{"s":"L","u":0,"lo":0,"hi":1},{"s":"R","u":4,"lo":0,"hi":1},{"s":"R","u":5,"lo":0.5,"hi":0.5}
],
"cla": [
{"u":0,"t":"10"},{"u":1,"t":"20"},{"u":2,"t":"30"},{"u":3,"t":"40"},{"u":4,"t":"50"},{"u":5,"t":"60"},{"u":6,"t":"70"},{"u":7,"t":"80"},{"u":8,"t":"90"},{"u":9,"t":"100"},{"u":10,"t":"mm"}
],
"clb": [
{"u":0,"t":"10"},{"u":1,"t":"20"},{"u":2,"t":"30"},{"u":3,"t":"40"},{"u":4,"t":"50"},{"u":5,"t":"mm"}
]
},
"hconcat": [
{
 "width": 458, "height": 259,
 "resolve": {"scale": {"x": "independent", "y": "independent", "color": "independent"}, "axis": {"x": "independent", "y": "independent"}},
 "layer": [
  {
   "layer": [
    {
     "data": {"name": "ca"},
     "encoding": {
      "y": {"field": "lat", "type": "quantitative", "scale": {"domain": [20, 50], "nice": false, "zero": false},
            "axis": {"values": [21,24,27,30,33,36,39,42,45,48], "tickCount": 30, "labelExpr": "datum.value + 'N'", "title": null, "domain": false, "grid": true, "gridDash": [1.5,1.5], "gridColor": "black", "gridWidth": 1, "tickSize": 4, "tickColor": "black", "labelPadding": 13, "labelFont": "Liberation Serif", "labelColor": "black", "labelFontSize": 18, "labelFlush": false, "labelOverlap": false, "zindex": 1}},
      "x": {"field": "d0", "type": "quantitative", "stack": null, "scale": {"domain": [0, 122], "nice": false, "zero": false},
            "axis": {"values": [0,15,31,46,61,76,92,107], "tickCount": 30, "labelExpr": "datum.value == 0 ? '1 MAY' : datum.value == 31 ? '1 JUN' : datum.value == 61 ? '1 JUL' : datum.value == 92 ? '1 AUG' : '16'", "title": "Date", "domain": false, "grid": true, "gridDash": [1.5,1.5], "gridColor": "black", "gridWidth": 1, "tickSize": 3, "tickColor": "black", "labelPadding": 8, "labelFont": "Liberation Serif", "labelColor": "black", "labelFontSize": 17, "labelFlush": false, "labelOverlap": false, "titleFont": "Liberation Serif", "titleColor": "black", "titleFontWeight": "normal", "titleFontSize": 17, "titlePadding": 11, "titleX": 220, "zindex": 1}},
      "x2": {"field": "d1"},
      "detail": {"field": "g", "type": "nominal"}
     },
     "layer": [
      {"transform": [{"filter": "datum.lv == 10"}], "mark": {"type": "area", "orient": "horizontal", "interpolate": "monotone", "clip": true, "fill": "#9c9c9c", "stroke": "black", "strokeWidth": 0.7}},
      {"transform": [{"filter": "datum.lv == 0"}], "mark": {"type": "area", "orient": "horizontal", "interpolate": "monotone", "clip": true, "fill": "white", "stroke": "black", "strokeWidth": 0.7}},
      {"transform": [{"filter": "datum.lv == 20"}], "mark": {"type": "area", "orient": "horizontal", "interpolate": "monotone", "clip": true, "fill": "#8a8a8a", "stroke": "black", "strokeWidth": 0.7}},
      {"transform": [{"filter": "datum.lv == 30"}], "mark": {"type": "area", "orient": "horizontal", "interpolate": "monotone", "clip": true, "fill": "#787878", "stroke": "black", "strokeWidth": 0.7}},
      {"transform": [{"filter": "datum.lv == 40"}], "mark": {"type": "area", "orient": "horizontal", "interpolate": "monotone", "clip": true, "fill": "#666666", "stroke": "black", "strokeWidth": 0.7}},
      {"transform": [{"filter": "datum.lv == 50"}], "mark": {"type": "area", "orient": "horizontal", "interpolate": "monotone", "clip": true, "fill": "#4d4d4d", "stroke": "black", "strokeWidth": 0.7}},
      {"transform": [{"filter": "datum.lv == 60"}], "mark": {"type": "area", "orient": "horizontal", "interpolate": "monotone", "clip": true, "fill": "#3d3d3d", "stroke": "black", "strokeWidth": 0.7}},
      {"transform": [{"filter": "datum.lv == 70"}], "mark": {"type": "area", "orient": "horizontal", "interpolate": "monotone", "clip": true, "fill": "#2f2f2f", "stroke": "black", "strokeWidth": 0.7}},
      {"transform": [{"filter": "datum.lv == 80"}], "mark": {"type": "area", "orient": "horizontal", "interpolate": "monotone", "clip": true, "fill": "#222222", "stroke": "black", "strokeWidth": 0.7}}
     ]
    },
    {
     "data": {"name": "la"},
     "mark": {"type": "text", "font": "DejaVu Sans", "fontSize": 7, "fontWeight": "bold", "fill": "black", "clip": true},
     "encoding": {"x": {"field": "d", "type": "quantitative"}, "y": {"field": "lat", "type": "quantitative"}, "text": {"field": "t"}}
    },
    {
     "data": {"values": [{"t": "(a)", "d": 4.5, "lat": 48.0}]},
     "mark": {"type": "text", "font": "Liberation Serif", "fontSize": 18, "fill": "black"},
     "encoding": {"x": {"field": "d", "type": "quantitative"}, "y": {"field": "lat", "type": "quantitative"}, "text": {"field": "t"}}
    }
   ]
  },
  {
   "layer": [
    {"data": {"name": "bara"}, "mark": {"type": "rect", "stroke": "black", "strokeWidth": 0.8},
     "encoding": {
      "x": {"field": "u0", "type": "quantitative", "scale": {"domain": [-0.431, 11.18], "nice": false, "zero": false}, "axis": null},
      "x2": {"field": "u1"},
      "y": {"datum": 0, "type": "quantitative", "scale": {"domain": [6.3125, 22.5], "nice": false, "zero": false}, "axis": null},
      "y2": {"datum": 1},
      "color": {"field": "lv", "type": "nominal", "scale": {"domain": [10,20,30,40,50,60,70,80,90], "range": ["#999999","#888888","#777777","#666666","#4a4a4a","#3d3d3d","#303030","#262626","#1b1b1b"]}, "legend": null}
     }},
    {"data": {"name": "tria"}, "transform": [{"filter": "datum.s == 'L'"}], "mark": {"type": "area", "fill": "white", "stroke": "black", "strokeWidth": 0.8},
     "encoding": {"x": {"field": "u", "type": "quantitative"}, "y": {"field": "lo", "type": "quantitative"}, "y2": {"field": "hi"}}},
    {"data": {"name": "tria"}, "transform": [{"filter": "datum.s == 'R'"}], "mark": {"type": "area", "fill": "#0e0e0e", "stroke": "black", "strokeWidth": 0.8},
     "encoding": {"x": {"field": "u", "type": "quantitative"}, "y": {"field": "lo", "type": "quantitative"}, "y2": {"field": "hi"}}},
    {"data": {"name": "cla"}, "mark": {"type": "text", "font": "Liberation Serif", "fontSize": 17, "fill": "black", "baseline": "middle"},
     "encoding": {"x": {"field": "u", "type": "quantitative"}, "y": {"datum": -0.875, "type": "quantitative"}, "text": {"field": "t"}}}
   ]
  }
 ]
},
{
 "width": 458, "height": 259,
 "resolve": {"scale": {"x": "independent", "y": "independent", "color": "independent"}, "axis": {"x": "independent", "y": "independent"}},
 "layer": [
  {
   "layer": [
    {
     "data": {"name": "cb"},
     "encoding": {
      "y": {"field": "lat", "type": "quantitative", "scale": {"domain": [20, 50], "nice": false, "zero": false},
            "axis": {"values": [21,24,27,30,33,36,39,42,45,48], "tickCount": 30, "labelExpr": "datum.value + 'N'", "title": null, "domain": false, "grid": true, "gridDash": [1.5,1.5], "gridColor": "black", "gridWidth": 1, "tickSize": 4, "tickColor": "black", "labelPadding": 13, "labelFont": "Liberation Serif", "labelColor": "black", "labelFontSize": 18, "labelFlush": false, "labelOverlap": false, "zindex": 1}},
      "x": {"field": "d0", "type": "quantitative", "stack": null, "scale": {"domain": [0, 122], "nice": false, "zero": false},
            "axis": {"values": [0,15,31,46,61,76,92,107], "tickCount": 30, "labelExpr": "datum.value == 0 ? '1 MAY' : datum.value == 31 ? '1 JUN' : datum.value == 61 ? '1 JUL' : datum.value == 92 ? '1 AUG' : '16'", "title": "Date", "domain": false, "grid": true, "gridDash": [1.5,1.5], "gridColor": "black", "gridWidth": 1, "tickSize": 3, "tickColor": "black", "labelPadding": 8, "labelFont": "Liberation Serif", "labelColor": "black", "labelFontSize": 17, "labelFlush": false, "labelOverlap": false, "titleFont": "Liberation Serif", "titleColor": "black", "titleFontWeight": "normal", "titleFontSize": 17, "titlePadding": 11, "titleX": 222, "zindex": 1}},
      "x2": {"field": "d1"},
      "detail": {"field": "g", "type": "nominal"}
     },
     "layer": [
      {"transform": [{"filter": "datum.lv == 10"}], "mark": {"type": "area", "orient": "horizontal", "interpolate": "monotone", "clip": true, "fill": "#777777", "stroke": "black", "strokeWidth": 0.7}},
      {"transform": [{"filter": "datum.lv == 20"}], "mark": {"type": "area", "orient": "horizontal", "interpolate": "monotone", "clip": true, "fill": "#555555", "stroke": "black", "strokeWidth": 0.7}},
      {"transform": [{"filter": "datum.lv == 30"}], "mark": {"type": "area", "orient": "horizontal", "interpolate": "monotone", "clip": true, "fill": "#3b3b3b", "stroke": "black", "strokeWidth": 0.7}},
      {"transform": [{"filter": "datum.lv == 40"}], "mark": {"type": "area", "orient": "horizontal", "interpolate": "monotone", "clip": true, "fill": "#222222", "stroke": "black", "strokeWidth": 0.7}}
     ]
    },
    {
     "data": {"name": "lb"},
     "mark": {"type": "text", "font": "DejaVu Sans", "fontSize": 7, "fontWeight": "bold", "fill": "black", "clip": true},
     "encoding": {"x": {"field": "d", "type": "quantitative"}, "y": {"field": "lat", "type": "quantitative"}, "text": {"field": "t"}}
    },
    {
     "data": {"values": [{"t": "(b)", "d": 5.9, "lat": 48.1}]},
     "mark": {"type": "text", "font": "Liberation Serif", "fontSize": 18, "fill": "black"},
     "encoding": {"x": {"field": "d", "type": "quantitative"}, "y": {"field": "lat", "type": "quantitative"}, "text": {"field": "t"}}
    }
   ]
  },
  {
   "layer": [
    {"data": {"name": "barb"}, "mark": {"type": "rect", "stroke": "black", "strokeWidth": 0.8},
     "encoding": {
      "x": {"field": "u0", "type": "quantitative", "scale": {"domain": [-2.907, 8.472], "nice": false, "zero": false}, "axis": null},
      "x2": {"field": "u1"},
      "y": {"datum": 0, "type": "quantitative", "scale": {"domain": [6.3125, 22.5], "nice": false, "zero": false}, "axis": null},
      "y2": {"datum": 1},
      "color": {"field": "lvb", "type": "nominal", "scale": {"domain": [10,20,30,40], "range": ["#777777","#555555","#3b3b3b","#222222"]}, "legend": null}
     }},
    {"data": {"name": "trib"}, "transform": [{"filter": "datum.s == 'L'"}], "mark": {"type": "area", "fill": "white", "stroke": "black", "strokeWidth": 0.8},
     "encoding": {"x": {"field": "u", "type": "quantitative"}, "y": {"field": "lo", "type": "quantitative"}, "y2": {"field": "hi"}}},
    {"data": {"name": "trib"}, "transform": [{"filter": "datum.s == 'R'"}], "mark": {"type": "area", "fill": "#0e0e0e", "stroke": "black", "strokeWidth": 0.8},
     "encoding": {"x": {"field": "u", "type": "quantitative"}, "y": {"field": "lo", "type": "quantitative"}, "y2": {"field": "hi"}}},
    {"data": {"name": "clb"}, "mark": {"type": "text", "font": "Liberation Serif", "fontSize": 17, "fill": "black", "baseline": "middle"},
     "encoding": {"x": {"field": "u", "type": "quantitative"}, "y": {"datum": -0.875, "type": "quantitative"}, "text": {"field": "t"}}}
   ]
  }
 ]
}
],
"spacing": 108,
"bounds": "flush"
}
